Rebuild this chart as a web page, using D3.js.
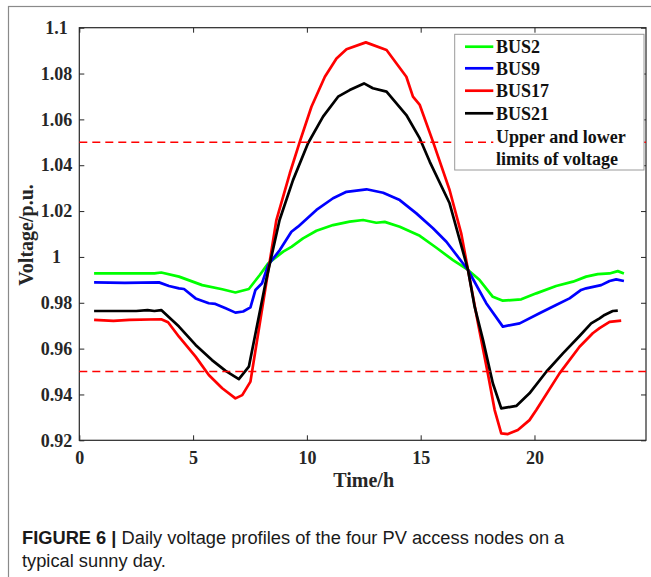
<!DOCTYPE html>
<html>
<head>
<meta charset="utf-8">
<script src="https://cdn.jsdelivr.net/npm/d3@7"></script>
<style>
    body { margin: 0; background: #fff; }
    .axis text { font-family: "Liberation Serif", "Times New Roman", serif; font-weight: bold; font-size: 18px; fill: #262626; }
    .axis line { stroke: #262626; }
    .axis-label { font-family: "Liberation Serif", "Times New Roman", serif; font-weight: bold; font-size: 20px; fill: #262626; text-anchor: middle; }
    .legend-text { font-family: "Liberation Serif", "Times New Roman", serif; font-weight: bold; font-size: 18px; fill: #111; }
    .caption { font-family: "Liberation Sans Narrow", "Liberation Sans", Arial, sans-serif; font-size: 19px; fill: #1a1a1a; }
</style>
</head>
<body>
<div id="chart"></div>
<script>
// time (h), voltage (p.u.)
var bus2 = [
    [0.65,0.9928],[1.5,0.9928],[2.5,0.9928],[3.3,0.9928],[3.6,0.9932],[4.38,0.9914],[5.4,0.9877],
    [6.28,0.9859],[6.86,0.9845],[7.45,0.9860],[7.93,0.9921],[8.3,0.9972],[8.96,1.0023],[9.32,1.0044],
    [9.83,1.0081],[10.42,1.0114],[11.15,1.0139],[11.88,1.0154],[12.47,1.0161],[13.05,1.0149],[13.42,1.0153],
    [14.08,1.0132],[14.96,1.0092],[15.69,1.0040],[16.42,0.9986],[17.08,0.9943],[17.59,0.9899],[18.17,0.9826],
    [18.61,0.9809],[19.42,0.9815],[20.08,0.9841],[20.95,0.9873],[21.69,0.9892],[22.27,0.9914],[22.78,0.9925],
    [23.3,0.9928],[23.66,0.9938],[23.93,0.9928]
]
var bus9 = [
    [0.65,0.9889],[2.0,0.9887],[3.5,0.9889],[3.94,0.9873],[4.38,0.9863],[4.6,0.9860],[5.11,0.9819],
    [5.69,0.9798],[5.98,0.9795],[6.43,0.9776],[6.86,0.9757],[7.2,0.9762],[7.52,0.9780],[7.74,0.9856],
    [8.03,0.9885],[8.3,0.9965],[8.81,1.0030],[9.32,1.0110],[9.61,1.0132],[10.42,1.0205],[11.15,1.0256],
    [11.74,1.0284],[12.62,1.0295],[13.35,1.0280],[14.08,1.0248],[14.81,1.0190],[15.54,1.0125],[16.13,1.0066],
    [17.08,0.9943],[17.88,0.9798],[18.61,0.9696],[19.35,0.9710],[20.22,0.9754],[20.95,0.9790],[21.54,0.9819],
    [22.05,0.9856],[22.27,0.9863],[22.93,0.9877],[23.3,0.9895],[23.59,0.9902],[23.93,0.9895]
]
var bus17 = [
    [0.65,0.9725],[1.5,0.9721],[2.2,0.9725],[3.6,0.9728],[3.9,0.9715],[4.38,0.9652],[5.11,0.9565],
    [5.69,0.9485],[6.28,0.9427],[6.86,0.9383],[7.16,0.9397],[7.52,0.9456],[8.66,1.0161],[9.25,1.0365],
    [9.69,1.0503],[10.2,1.0655],[10.79,1.0786],[11.3,1.0866],[11.74,1.0906],[12.59,1.0936],[13.5,1.0903],
    [13.93,1.0845],[14.37,1.0786],[14.66,1.0699],[14.96,1.0663],[15.54,1.0503],[16.27,1.0292],[16.78,1.0103],
    [17.08,0.9943],[17.52,0.9710],[17.95,0.9492],[18.25,0.9332],[18.54,0.9230],[18.83,0.9227],[19.27,0.9245],
    [19.78,0.9288],[20.08,0.9332],[21.1,0.9492],[21.98,0.9608],[22.56,0.9667],[22.86,0.9689],[23.3,0.9717],
    [23.81,0.9722]
]
var bus21 = [
    [0.65,0.9764],[2.5,0.9764],[3.0,0.9768],[3.3,0.9764],[3.6,0.9768],[4.38,0.9696],[5.11,0.9616],
    [5.83,0.9550],[6.43,0.9503],[7.01,0.9467],[7.45,0.9521],[8.18,0.9885],[8.8,1.0161],[9.39,1.0335],
    [10.05,1.0496],[10.71,1.0612],[11.37,1.0699],[11.88,1.0728],[12.51,1.0757],[12.9,1.0736],[13.5,1.0721],
    [14.37,1.0619],[14.96,1.0517],[15.4,1.0415],[16.27,1.0234],[17.08,0.9943],[17.37,0.9783],[17.74,0.9637],
    [18.17,0.9449],[18.54,0.9339],[19.2,0.9350],[19.78,0.9405],[20.52,0.9499],[21.25,0.9579],[21.98,0.9655],
    [22.49,0.9710],[22.86,0.9732],[23.08,0.9747],[23.44,0.9764],[23.66,0.9766]
]
var seriesNames = ["BUS2", "BUS9", "BUS17", "BUS21"]
var limits = [0.95, 1.05]
var limitLabel = ["Upper and lower", "limits of voltage"]
var xTicks = [0, 5, 10, 15, 20]
var yTicks = [0.92, 0.94, 0.96, 0.98, 1, 1.02, 1.04, 1.06, 1.08, 1.1]
var yTickLabels = ["0.92", "0.94", "0.96", "0.98", "1", "1.02", "1.04", "1.06", "1.08", "1.1"]
var xDomain = [0, 24.9]
var yDomain = [0.92, 1.1]

var colors = ["#00ff00", "#0000ff", "#ff0000", "#000000"]

var W = 651, H = 577
var margin = { left: 79.3, top: 27.7, right: 5, bottom: 136.7 }
var width = 646 - margin.left,
    height = 440.3 - margin.top

var svg = d3.select("#chart").append("svg")
    .attr("width", W)
    .attr("height", H)

svg.append("rect")
    .attr("width", W).attr("height", H)
    .attr("fill", "#fff")

// figure frame
svg.append("rect")
    .attr("x", 8.5).attr("y", 6.5)
    .attr("width", 700).attr("height", 700)
    .attr("fill", "none")
    .attr("stroke", "#8a8a8a")
    .attr("stroke-width", 1.2)

var g = svg.append("g")
    .attr("transform", "translate(" + margin.left + "," + margin.top + ")")

var x = d3.scaleLinear().domain(xDomain).range([0, width])
var y = d3.scaleLinear().domain(yDomain).range([height, 0])

// axes, ticks pointing inwards
g.append("g")
    .attr("class", "axis")
    .attr("transform", "translate(0," + height + ")")
    .call(d3.axisBottom(x).tickValues(xTicks).tickSizeInner(-5).tickSizeOuter(0).tickPadding(11).tickFormat(d3.format("d")))
g.append("g")
    .attr("class", "axis")
    .call(d3.axisTop(x).tickValues(xTicks).tickSizeInner(-5).tickSizeOuter(0).tickFormat(""))
g.append("g")
    .attr("class", "axis y-left")
    .call(d3.axisLeft(y).tickValues(yTicks).tickSizeInner(-5).tickSizeOuter(0)
        .tickFormat(function(d, i){ return yTickLabels[i] }))
g.append("g")
    .attr("class", "axis")
    .attr("transform", "translate(" + width + ",0)")
    .call(d3.axisRight(y).tickValues(yTicks).tickSizeInner(-5).tickSizeOuter(0).tickFormat(""))

g.selectAll(".axis .domain").remove()
g.select(".y-left").selectAll("text")
    .attr("x", -22.8)
    .attr("text-anchor", "middle")

g.append("rect")
    .attr("width", width).attr("height", height)
    .attr("fill", "none")
    .attr("stroke", "#262626")
    .attr("stroke-width", 1.2)

// curves
var line = d3.line()
    .x(d => x(d[0]))
    .y(d => y(d[1]))

var allSeries = [bus2, bus9, bus17, bus21]
g.selectAll(".bus-line")
    .data(allSeries)
    .enter().append("path")
    .attr("class", "bus-line")
    .attr("d", line)
    .attr("fill", "none")
    .attr("stroke", (d, i) => colors[i])
    .attr("stroke-width", 2.7)
    .attr("stroke-linejoin", "round")

g.selectAll(".limit-line")
    .data(limits)
    .enter().append("line")
    .attr("class", "limit-line")
    .attr("x1", 0).attr("x2", width)
    .attr("y1", d => y(d)).attr("y2", d => y(d))
    .attr("stroke", "#ff0000")
    .attr("stroke-width", 1.6)
    .attr("stroke-dasharray", "8,5")

// axis titles
g.append("text")
    .attr("class", "axis-label")
    .attr("x", width / 2 + 1)
    .attr("y", height + 46.5)
    .text("Time/h")

g.append("text")
    .attr("class", "axis-label")
    .attr("transform", "rotate(-90)")
    .attr("x", -height / 2 - 1)
    .attr("y", -46.5)
    .text("Voltage/p.u.")

// legend
var legend = svg.append("g")
    .attr("transform", "translate(454.7,34.3)")

legend.append("rect")
    .attr("width", 189.3).attr("height", 135.7)
    .attr("fill", "#fff")
    .attr("stroke", "#9a9a9a")
    .attr("stroke-width", 1)

var rowY = [12.4, 34, 56.4, 79]
seriesNames.forEach(function(name, i){
    legend.append("line")
        .attr("x1", 10.3).attr("x2", 38.6)
        .attr("y1", rowY[i]).attr("y2", rowY[i])
        .attr("stroke", colors[i])
        .attr("stroke-width", 2.7)
    legend.append("text")
        .attr("class", "legend-text")
        .attr("x", 41.3)
        .attr("y", rowY[i] + 6.6)
        .text(name)
})

legend.append("line")
    .attr("x1", 10.3).attr("x2", 38.6)
    .attr("y1", y(limits[1]) + margin.top - 34.3)
    .attr("y2", y(limits[1]) + margin.top - 34.3)
    .attr("stroke", "#ff0000")
    .attr("stroke-width", 1.6)
    .attr("stroke-dasharray", "8,5")

limitLabel.forEach(function(t, i){
    legend.append("text")
        .attr("class", "legend-text")
        .attr("x", 41.3)
        .attr("y", 108.6 + i * 21.7)
        .text(t)
})

// caption
var cap = svg.append("g").attr("class", "caption")
var c1 = cap.append("text").attr("x", 22).attr("y", 544)
c1.append("tspan").attr("font-weight", "bold").text("FIGURE 6 | ")
c1.append("tspan").text("Daily voltage profiles of the four PV access nodes on a")
cap.append("text").attr("x", 22).attr("y", 567).text("typical sunny day.")

// squeeze caption to the narrow face of the original
var w1 = c1.node().getComputedTextLength()
var sx = 543 / w1
cap.attr("transform", "translate(22,0) scale(" + sx + ",1) translate(-22,0)")
</script>
</body>
</html>
